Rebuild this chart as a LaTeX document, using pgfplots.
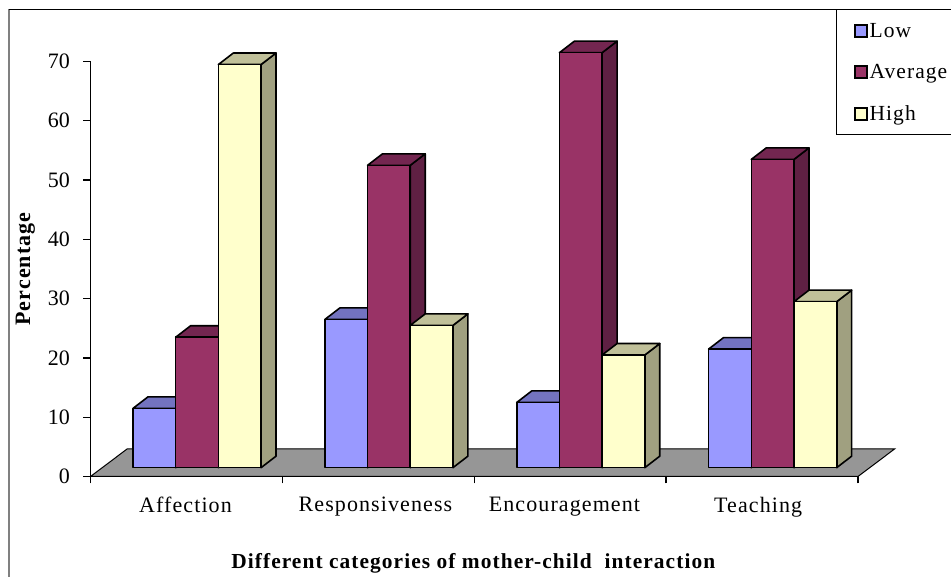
\documentclass[border=0pt]{standalone}
\usepackage{fontspec}
\setmainfont{Liberation Serif}
\newfontfamily\spaced[LetterSpace=5]{Liberation Serif}
\usepackage{pgfplots}
\pgfplotsset{compat=1.18}

\definecolor{lowF}{HTML}{9999FF}
\definecolor{lowT}{HTML}{7373C0}
\definecolor{lowS}{HTML}{7373BF}
\definecolor{avgF}{HTML}{993366}
\definecolor{avgT}{HTML}{732650}
\definecolor{avgS}{HTML}{5F2043}
\definecolor{higF}{HTML}{FFFFCC}
\definecolor{higT}{HTML}{C0C099}
\definecolor{higS}{HTML}{A0A080}
\definecolor{floorc}{HTML}{969696}

% left edge, value, colour prefix
\newcommand{\threedbar}[3]{%
  \pgfmathsetmacro\xa{#1}%
  \pgfmathsetmacro\xb{#1+0.2225}%
  \pgfmathsetmacro\xc{#1+0.2225+0.078}%
  \pgfmathsetmacro\xd{#1+0.078}%
  \pgfmathsetmacro\ya{1.49}%
  \pgfmathsetmacro\yb{1.49+#2}%
  \pgfmathsetmacro\yc{1.49+#2+1.94}%
  \pgfmathsetmacro\ye{1.49+1.94}%
  \addplot[barface,fill=#3S,forget plot] coordinates {(\xb,\ya) (\xc,\ye) (\xc,\yc) (\xb,\yb)} --cycle;
  \addplot[barface,fill=#3T,forget plot] coordinates {(\xa,\yb) (\xd,\yc) (\xc,\yc) (\xb,\yb)} --cycle;
  \addplot[barface,fill=#3F,forget plot] coordinates {(\xa,\ya) (\xb,\ya) (\xb,\yb) (\xa,\yb)} --cycle;
}

\tikzset{barface/.style={draw=black,line width=1.6pt,line join=round,mark=none}}

\begin{document}
\begin{tikzpicture}[x=1pt,y=1pt]
  \useasboundingbox (0,0) rectangle (951,577);
  % outer frame and legend box
  \draw[gray,line width=2pt] (8.5,0) -- (8.5,567.5);
  \draw[black,line width=1.1pt] (8.5,567.5) -- (951,567.5);
  \draw[black,line width=1.1pt] (836.3,567.5) -- (836.3,442.7) -- (951,442.7);
  \begin{axis}[
      at={(90.5pt,100.5pt)}, anchor=south west,
      scale only axis, width=767.5pt, height=415pt,
      xmin=0, xmax=4, ymin=0, ymax=70,
      clip=false,
      axis x line*=bottom,
      axis y line*=left,
      axis line style={line width=1.5pt},
      xtick={0.495,1.485,2.47,3.48},
      xticklabels={Affection,Responsiveness,Encouragement,Teaching},
      minor xtick={0,1,2,3,4},
      major x tick style={draw=none},
      ytick={0,10,...,70},
      tick align=outside,
      major tick length=7pt,
      minor tick length=7pt,
      tick style={black,line width=1.3pt},
      x tick label style={font=\fontsize{22}{24}\spaced, yshift=-10pt},
      y tick label style={font=\fontsize{22}{24}\selectfont, xshift=-10pt},
      /pgf/number format/assume math mode=true,
      xlabel={\spaced Different categories of mother-child\ \ interaction},
      xlabel style={font=\fontsize{21.4}{24}\bfseries, yshift=-30pt, xshift=-1pt},
      ylabel={\spaced Percentage},
      ylabel style={font=\fontsize{22}{24}\bfseries, yshift=6pt},
      legend style={at={(0.994,1.097)}, anchor=north west, draw=none, fill=none,
        font=\fontsize{21.5}{24}\spaced, row sep=21.5pt, inner sep=0pt},
      legend cell align=left,
      legend image code/.code={\draw[#1,line width=2pt] (0pt,-6pt) rectangle (12pt,6pt);},
      legend entries={Low,Average,High},
    ]
    \addlegendimage{draw=black,fill=lowF}
    \addlegendimage{draw=black,fill=avgF}
    \addlegendimage{draw=black,fill=higF}
    % floor
    \addplot[draw=black,line width=1pt,fill=floorc,mark=none,forget plot]
      coordinates {(0,0) (0.191,4.65) (4.191,4.65) (4,0)} --cycle;
    % Affection
    \threedbar{0.2215}{10}{low}
    \threedbar{0.444}{22}{avg}
    \threedbar{0.6665}{68}{hig}
    % Responsiveness
    \threedbar{1.2215}{25}{low}
    \threedbar{1.444}{51}{avg}
    \threedbar{1.6665}{24}{hig}
    % Encouragement
    \threedbar{2.2215}{11}{low}
    \threedbar{2.444}{70}{avg}
    \threedbar{2.6665}{19}{hig}
    % Teaching
    \threedbar{3.2215}{20}{low}
    \threedbar{3.444}{52}{avg}
    \threedbar{3.6665}{28}{hig}
  \end{axis}
\end{tikzpicture}
\end{document}
